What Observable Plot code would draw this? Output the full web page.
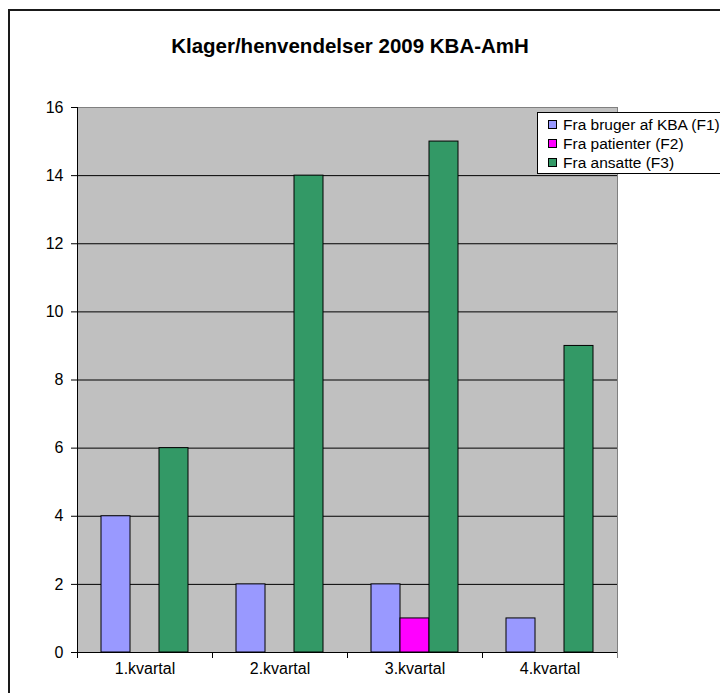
<!DOCTYPE html>
<html>
<head>
<meta charset="utf-8">
<script src="https://cdn.jsdelivr.net/npm/d3@7"></script>
<script src="https://cdn.jsdelivr.net/npm/@observablehq/plot@0.6"></script>
<style>
  html, body { margin: 0; padding: 0; background: #fff; }
  #fig { position: relative; width: 720px; height: 693px; overflow: hidden; background: #fff;
         font-family: "Liberation Sans", Arial, sans-serif; }
  #border { position: absolute; left: 8px; top: 9px; width: 800px; height: 800px; border: 2px solid #1a1a1a; box-sizing: border-box; }
  #title { position: absolute; left: 0; top: 36px; width: 700px; text-align: center; font-weight: bold; font-size: 20.5px; line-height: 1; }
  #chart { position: absolute; left: 0; top: 0; }
  #legend { position: absolute; left: 537px; top: 112px; width: 200px; height: 62px; box-sizing: border-box;
            border: 1px solid #000; background: #fff; padding: 2px 0 0 10px; font-size: 15.5px; }
  .item { display: flex; align-items: center; height: 19px; }
  .sw { width: 7px; height: 7px; border: 1px solid #000; margin-right: 6px; flex: none; }
</style>
</head>
<body>
<div id="fig">
  <div id="border"></div>
  <div id="chart"></div>
  <div id="title">Klager/henvendelser 2009 KBA-AmH</div>
  <div id="legend"></div>
</div>
<script>
const quarters = ["1.kvartal", "2.kvartal", "3.kvartal", "4.kvartal"];
const series = ["Fra bruger af KBA (F1)", "Fra patienter (F2)", "Fra ansatte (F3)"];
const f1 = [4, 2, 2, 1];
const f2 = [0, 0, 1, 0];
const f3 = [6, 14, 15, 9];
const colors = ["#9999ff", "#ff00ff", "#339966"];
const yTicks = [0, 2, 4, 6, 8, 10, 12, 14, 16];
const gridTicks = [2, 4, 6, 8, 10, 12, 14];

const values = [f1, f2, f3];
const rows = quarters.flatMap((q, i) => series.map((s, j) => ({q, s, v: values[j][i]}))).filter(d => d.v > 0);

const plot = Plot.plot({
  width: 720,
  height: 693,
  marginLeft: 76,
  marginRight: 102,
  marginTop: 107,
  marginBottom: 41,
  style: {fontFamily: "Liberation Sans, Arial, sans-serif", fontSize: "16px", color: "#000", background: "transparent"},
  fx: {domain: quarters, padding: 0, label: null},
  x: {domain: series, paddingInner: 0, paddingOuter: 0.76, axis: null, label: null},
  y: {domain: [0, 16], axis: null, label: null},
  color: {domain: series, range: colors},
  marks: [
    Plot.frame({fill: "#c0c0c0", facet: "super"}),
    Plot.gridY(gridTicks, {stroke: "#000", strokeOpacity: 1}),
    Plot.ruleY([16], {stroke: "#808080"}),
    Plot.frame({anchor: "right", facet: "super", stroke: "#808080"}),
    Plot.barY(rows, {fx: "q", x: "s", y: "v", fill: "s", stroke: "#000", strokeWidth: 1}),
    Plot.ruleY([0], {stroke: "#000"}),
    Plot.frame({anchor: "left", facet: "super", stroke: "#000"}),
    Plot.frame({anchor: "left", stroke: "#000", insetTop: 545, insetBottom: -5}),
    Plot.frame({anchor: "right", facet: "super", stroke: "#808080", insetTop: 545, insetBottom: -5}),
    Plot.axisY(yTicks, {tickSize: 6, tickPadding: 8, fontSize: 16, label: null}),
    Plot.axisFx({anchor: "bottom", tickSize: 0, tickPadding: 10, fontSize: 16, label: null})
  ]
});
document.getElementById("chart").appendChild(plot);

const legend = document.getElementById("legend");
series.forEach((s, i) => {
  const item = document.createElement("div");
  item.className = "item";
  const sw = document.createElement("span");
  sw.className = "sw";
  sw.style.background = colors[i];
  const t = document.createElement("span");
  t.textContent = s;
  item.appendChild(sw);
  item.appendChild(t);
  legend.appendChild(item);
});
</script>
</body>
</html>
